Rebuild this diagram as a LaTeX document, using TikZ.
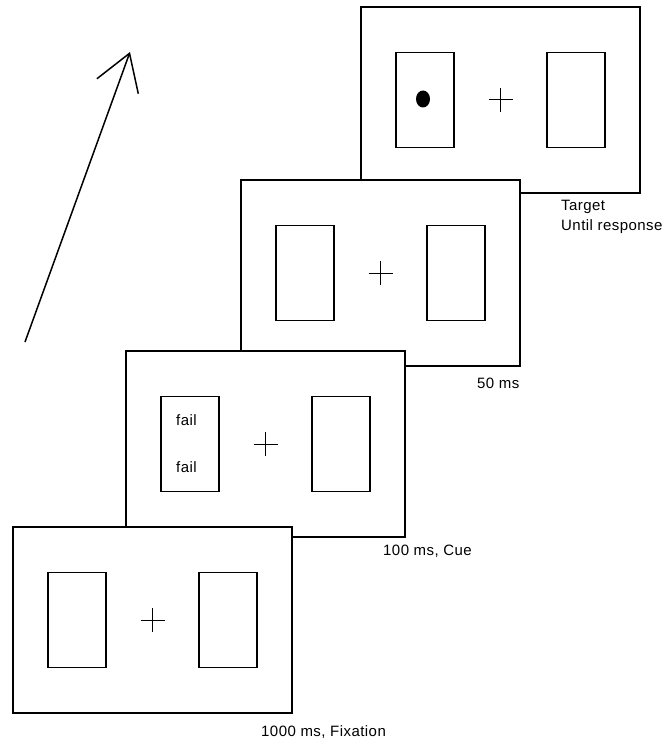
\documentclass[tikz,border=0pt]{standalone}
\usepackage{fontspec}
\setmainfont{Liberation Sans}[LetterSpace=3]
\usetikzlibrary{arrows.meta}
\begin{document}
\begin{tikzpicture}[x=1pt, y=-1pt,
	pantalla/.style={draw, line width=1.5pt, fill=white, minimum width=279pt, minimum height=186pt, inner sep=0pt},
	caja/.style={draw, line width=1.3pt, minimum width=58pt, minimum height=95pt, inner sep=0pt},
	etiqueta/.style={anchor=west, inner sep=0pt, font=\fontsize{15}{18}\selectfont},
	cruz/.style={line width=1pt}]
	\useasboundingbox (0,0) rectangle (666,746);
	
	% Pantallas, de la ultima a la primera
	\node[pantalla] (f4) at (500.5,100) {};
	\node[pantalla] (f3) at (380.5,273) {};
	\node[pantalla] (f2) at (265.5,444) {};
	\node[pantalla] (f1) at (152.5,620) {};
	
	% Cajas y cruces de fijacion
	\foreach \f in {f1,f2,f3,f4} {
		\node[caja] (\f izq) at ([xshift=-75.5pt]\f.center) {};
		\node[caja] (\f der) at ([xshift=75.5pt]\f.center) {};
		\draw[cruz] (\f.center) ++(-12,0) -- ++(24,0);
		\draw[cruz] (\f.center) ++(0,-12) -- ++(0,24);
	}
	
	% Clave y objetivo
	\node[etiqueta] (clave1) at (176,420) {fail};
	\node[etiqueta] (clave2) at (176,467) {fail};
	\fill (423,99) ellipse (7 and 8.5);
	
	% Tiempos
	\node[etiqueta] (t4a) at (561,207) {Target};
	\node[etiqueta] (t4b) at (561,227) {Until response};
	\node[etiqueta] (t3) at (477,383) {50 ms};
	\node[etiqueta] (t2) at (383,551) {100 ms, Cue};
	\node[etiqueta] (t1) at (261,732) {1000 ms, Fixation};
	
	% Flecha del tiempo
	\coordinate (cola) at (25,342);
	\coordinate (punta) at (130,52);
	\draw[line width=1.5pt, -{Straight Barb[length=35pt, width=44pt]}] (cola) -- (punta);
\end{tikzpicture}
\end{document}
